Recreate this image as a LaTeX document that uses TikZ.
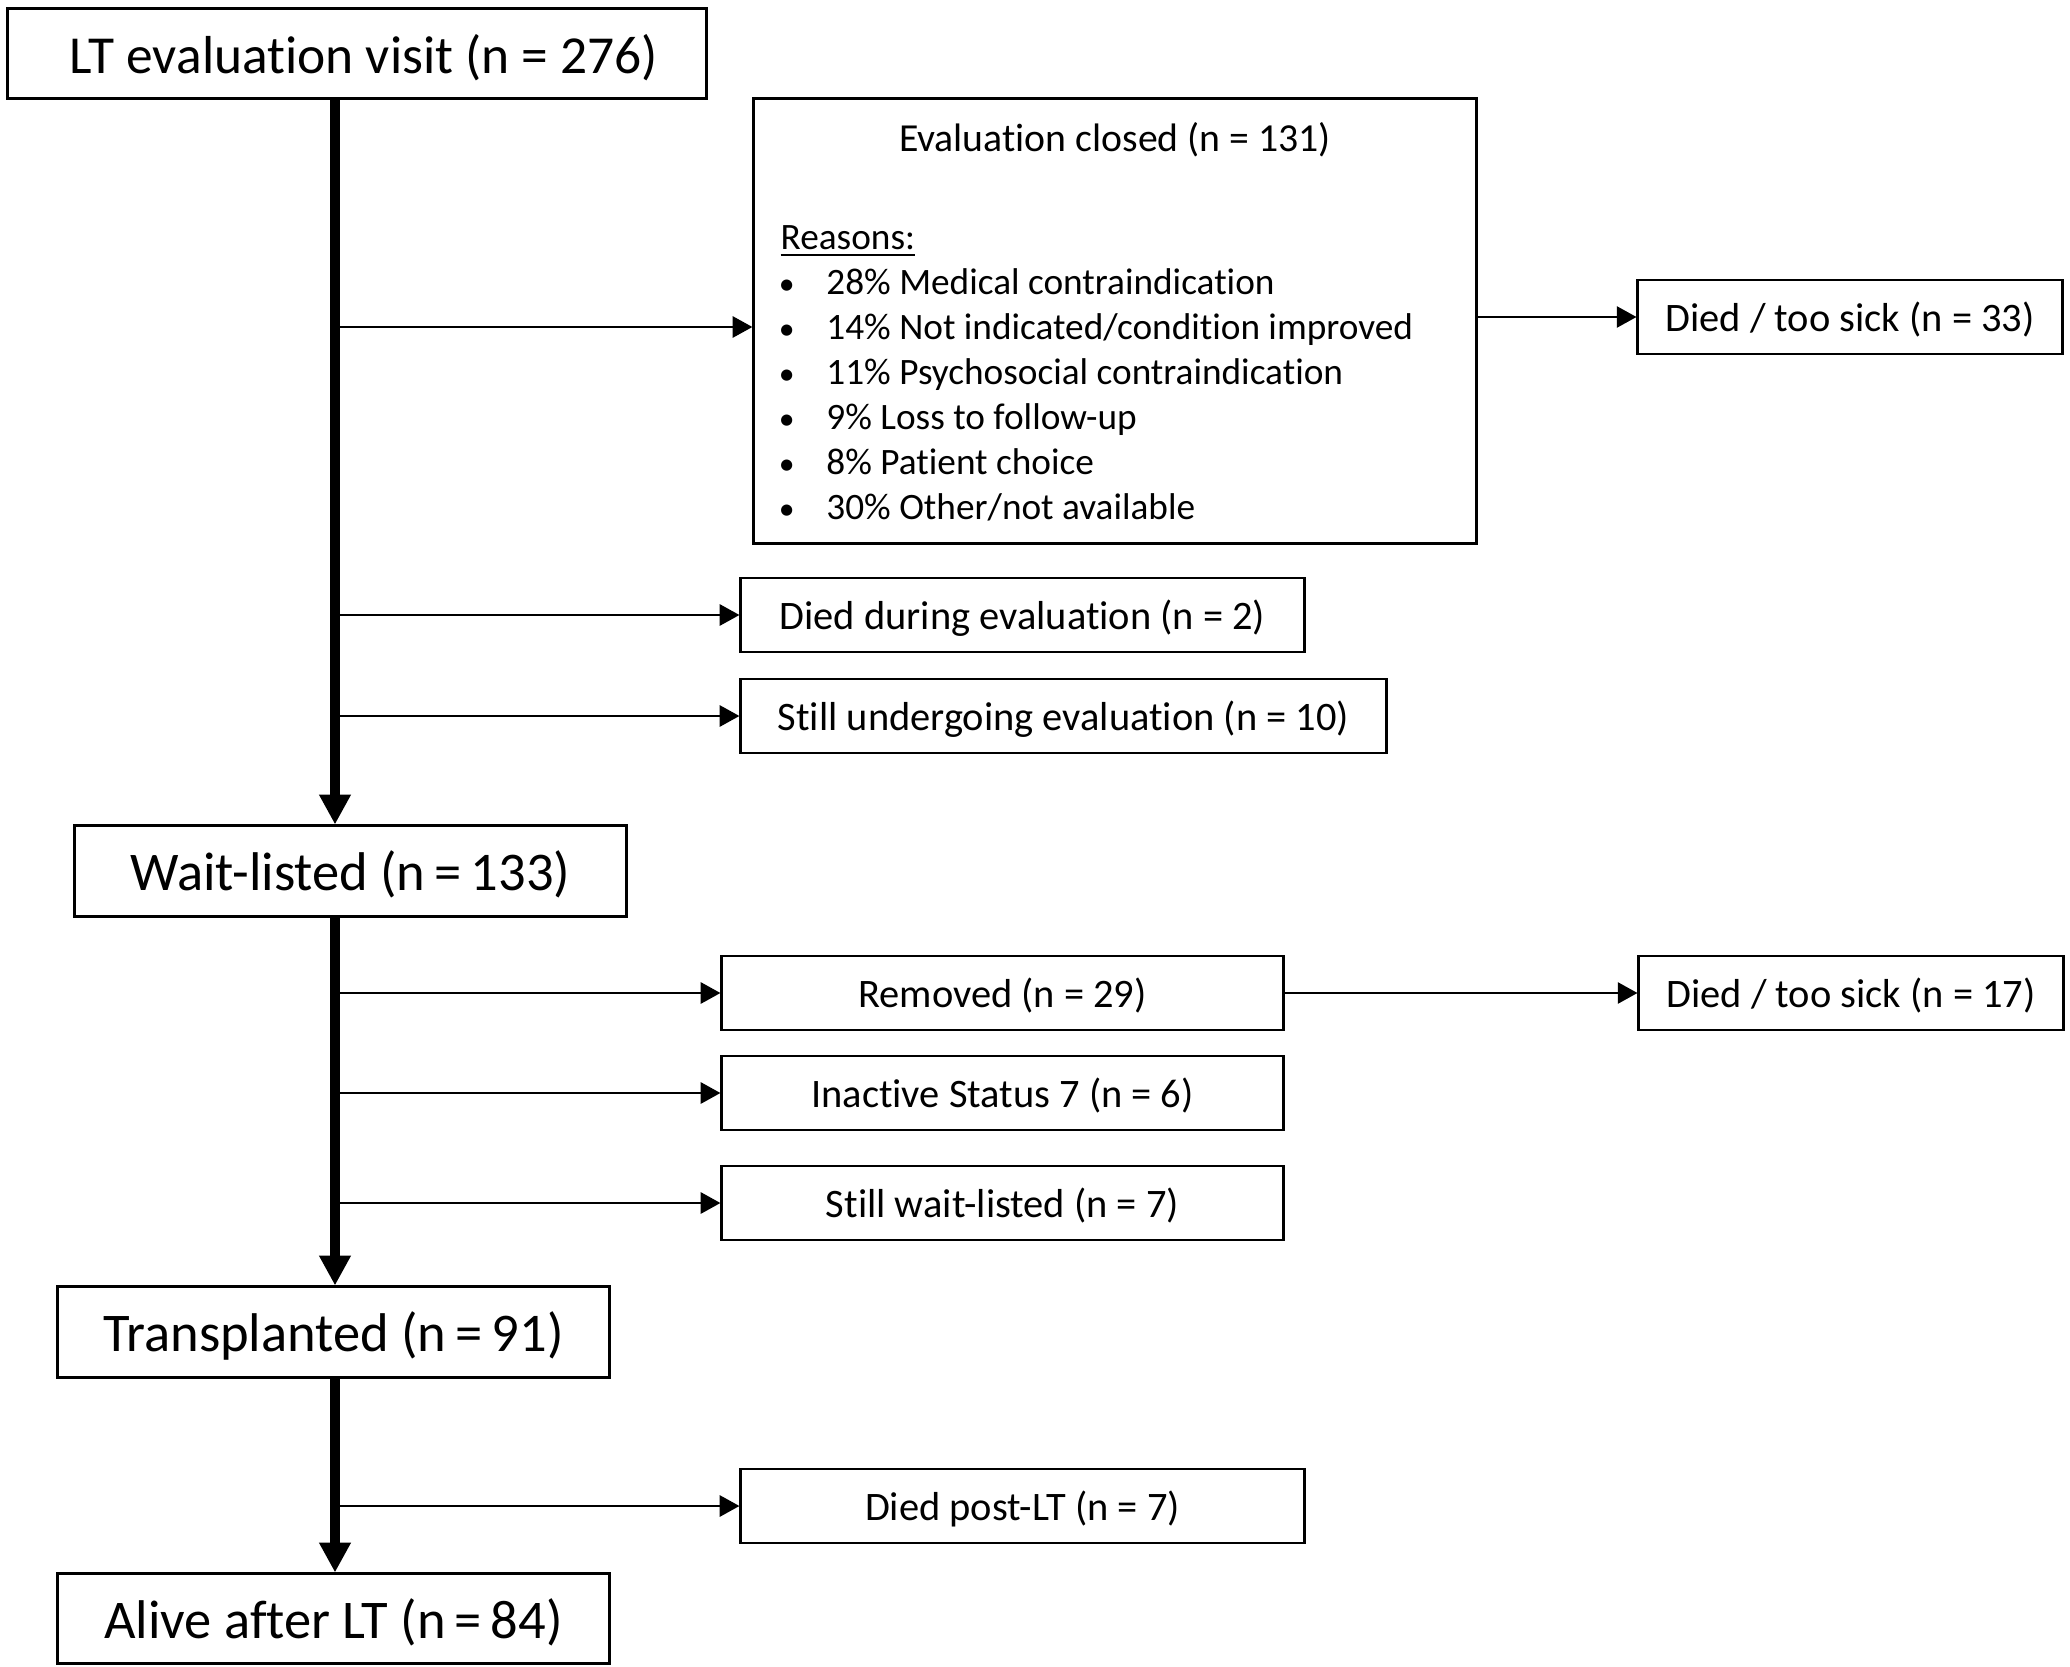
\documentclass[tikz,border=0pt]{standalone}
\usepackage{fontspec}
\usepackage{graphicx}
\setmainfont{Carlito}[Ligatures=NoCommon]
\usetikzlibrary{arrows.meta,calc}

\begin{document}
\begin{tikzpicture}[
  x=0.01cm, y=-0.01cm,
  stage node/.style={
    draw,
    line width=0.85pt,
    minimum width=5.51cm,
    minimum height=0.9cm,
    inner sep=0pt,
    text depth=0pt,
    font=\fontsize{15.5}{18}\selectfont,
  },
  exit node/.style={
    draw,
    line width=0.8pt,
    minimum width=5.61cm,
    minimum height=0.74cm,
    inner sep=0pt,
    text depth=0pt,
    font=\fontsize{11.5}{13}\selectfont,
  },
  main path/.style={draw,line width=2.8pt,-{Triangle[length=8.5pt,width=8.5pt]}},
  exit path/.style={draw,line width=0.7pt,-{Triangle[length=5.6pt,width=6pt]}},
  ]
  \useasboundingbox (0,0) rectangle (2070,1667);
  \coordinate (spine) at (335,0);
  \newcommand\reasonitem{\hspace*{-0.5pt}\makebox[13.5pt][l]{\scalebox{0.85}{\textbullet}}}

  % main column
  \node[stage node,minimum width=6.98cm,minimum height=0.89cm,
    font=\fontsize{15.2}{18}\selectfont] (visit) at (357,53.5)
    {\hspace*{4pt}LT evaluation visit (n = 276)};
  \node[stage node] (listed) at (350.5,871) {Wait-listed (n\,=\,133)};
  \node[stage node] (transplanted) at (333.5,1332) {Transplanted (n\,=\,91)};
  \node[stage node,minimum height=0.89cm] (alive) at (333.5,1618.5)
    {Alive after LT (n\,=\,84)};

  % evaluation exits
  \node[exit node,minimum width=7.22cm,minimum height=4.44cm] (closed) at (1115,321) {};
  \node[font=\fontsize{11.3}{13}\selectfont,inner sep=0pt] (closed-title)
    at (closed.north |- 0,140) {Evaluation closed (n = 131)};
  \node[font=\fontsize{10.6}{12.8}\selectfont,inner sep=0pt,anchor=west,align=left]
    (closed-reasons) at (780,373.5) {%
    \underline{Reasons:}\\
    \reasonitem 28\% Medical contraindication\\
    \reasonitem 14\% Not indicated/condition improved\\
    \reasonitem 11\% Psychosocial contraindication\\
    \reasonitem 9\% Loss to follow-up\\
    \reasonitem 8\% Patient choice\\
    \reasonitem 30\% Other/not available};
  \coordinate (closed-in) at ($(closed.west)+(0,6)$);
  \node[exit node,minimum width=4.24cm] (closed-sick) at (1850,317)
    {Died / too sick (n = 33)};
  \node[exit node,minimum width=5.63cm] (died-eval) at (1022.5,615)
    {Died during evaluation (n = 2)};
  \node[exit node,minimum width=6.45cm] (still-eval) at (1063.5,716)
    {Still undergoing evaluation (n = 10)};

  % wait-list exits
  \node[exit node] (removed) at (1002.5,993) {Removed (n = 29)};
  \node[exit node,minimum width=4.24cm] (removed-sick) at (1851,993)
    {Died / too sick (n = 17)};
  \node[exit node] (inactive) at (1002.5,1093) {Inactive Status 7 (n = 6)};
  \node[exit node] (still-listed) at (1002.5,1203) {Still wait-listed (n = 7)};

  % post transplant exit
  \node[exit node,minimum width=5.63cm] (died-post) at (1022.5,1506)
    {Died post-LT (n = 7)};

  % connectors
  \path[main path] (visit.south -| spine) -- (listed.north -| spine);
  \path[main path] (listed.south -| spine) -- (transplanted.north -| spine);
  \path[main path] (transplanted.south -| spine) -- (alive.north -| spine);
  \path[exit path] (spine |- closed-in) -- (closed-in);
  \path[exit path] (spine |- died-eval) -- (died-eval);
  \path[exit path] (spine |- still-eval) -- (still-eval);
  \path[exit path] (closed.east |- closed-sick) -- (closed-sick);
  \path[exit path] (spine |- removed) -- (removed);
  \path[exit path] (spine |- inactive) -- (inactive);
  \path[exit path] (spine |- still-listed) -- (still-listed);
  \path[exit path] (removed) -- (removed-sick);
  \path[exit path] (spine |- died-post) -- (died-post);
\end{tikzpicture}
\end{document}
